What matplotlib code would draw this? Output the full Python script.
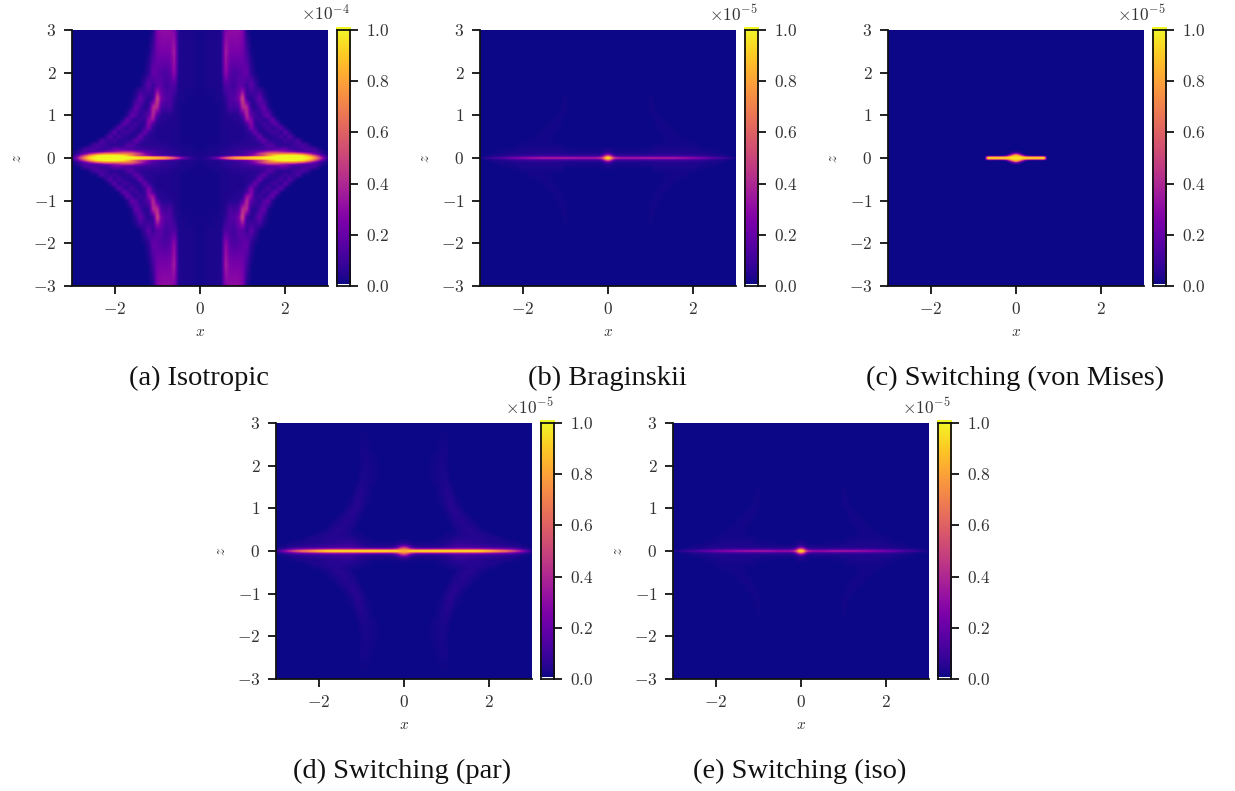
import numpy as np
import matplotlib
matplotlib.use("Agg")
import matplotlib.pyplot as plt

plt.rcParams['mathtext.fontset'] = 'cm'
plt.rcParams['font.family'] = ['Liberation Serif', 'DejaVu Serif']

W, H = 1235, 791

# Quadrant values (x >= 0, z >= 0), in percent of the colour range; rows go from z = 3 down to z = 0.
x_iso = [0, .2, .4, .5, .6, .7, .8, .9, 1.0, 1.1, 1.2, 1.3, 1.4, 1.5, 1.6, 1.7, 1.8, 1.9, 2.0, 2.1, 2.2, 2.3, 2.4, 2.5, 2.6, 2.7, 2.8, 2.9, 3.0]
z_iso = [3, 2.5, 2, 1.7, 1.4, 1.2, 1.0, .9, .8, .7, .6, .5, .4, .3, .2, .15, .1, .06, .03, 0]
iso = [
    [1, 2, 2, 4, 26, 30, 30, 30, 26, 3, 0, 0, 0, 0, 0, 0, 0, 0, 0, 0, 0, 0, 0, 0, 0, 0, 0, 0, 0],
    [1, 2, 2, 4, 36, 24, 24, 24, 22, 10, 1, 0, 0, 0, 0, 0, 0, 0, 0, 0, 0, 0, 0, 0, 0, 0, 0, 0, 0],
    [1, 2, 2, 3, 30, 16, 12, 14, 16, 20, 6, 1, 0, 0, 0, 0, 0, 0, 0, 0, 0, 0, 0, 0, 0, 0, 0, 0, 0],
    [1, 2, 2, 3, 14, 12, 10, 16, 16, 8, 18, 8, 1, 0, 0, 0, 0, 0, 0, 0, 0, 0, 0, 0, 0, 0, 0, 0, 0],
    [1, 1, 2, 2, 6, 14, 14, 22, 50, 8, 4, 10, 20, 6, 1, 0, 0, 0, 0, 0, 0, 0, 0, 0, 0, 0, 0, 0, 0],
    [1, 1, 1, 2, 4, 12, 10, 12, 42, 40, 6, 4, 12, 20, 3, 0, 0, 0, 0, 0, 0, 0, 0, 0, 0, 0, 0, 0, 0],
    [1, 1, 1, 2, 3, 4, 4, 5, 14, 42, 16, 10, 5, 14, 20, 4, 0, 0, 0, 0, 0, 0, 0, 0, 0, 0, 0, 0, 0],
    [1, 1, 1, 2, 3, 3, 4, 4, 6, 34, 28, 6, 10, 5, 10, 20, 3, 0, 0, 0, 0, 0, 0, 0, 0, 0, 0, 0, 0],
    [1, 1, 1, 2, 3, 3, 3, 4, 4, 12, 30, 6, 5, 10, 6, 14, 18, 2, 0, 0, 0, 0, 0, 0, 0, 0, 0, 0, 0],
    [1, 1, 1, 2, 2, 3, 3, 3, 3, 6, 25, 10, 4, 6, 12, 5, 8, 18, 4, 0, 0, 0, 0, 0, 0, 0, 0, 0, 0],
    [1, 1, 1, 2, 2, 3, 3, 3, 3, 4, 8, 22, 6, 4, 5, 10, 10, 4, 18, 5, 0, 0, 0, 0, 0, 0, 0, 0, 0],
    [1, 1, 1, 2, 2, 3, 3, 3, 3, 4, 5, 8, 22, 6, 4, 5, 6, 13, 5, 16, 6, 0, 0, 0, 0, 0, 0, 0, 0],
    [1, 1, 1, 2, 2, 3, 3, 3, 4, 4, 5, 5, 10, 20, 8, 5, 5, 5, 10, 8, 8, 14, 3, 0, 0, 0, 0, 0, 0],
    [1, 1, 2, 2, 3, 3, 4, 4, 5, 5, 5, 5, 6, 8, 16, 14, 6, 5, 5, 5, 9, 11, 12, 10, 2, 0, 0, 0, 0],
    [1, 2, 2, 3, 4, 5, 6, 6, 7, 8, 8, 9, 10, 11, 12, 14, 16, 20, 20, 12, 8, 8, 11, 12, 13, 10, 3, 0, 0],
    [1, 2, 3, 4, 5, 5, 6, 8, 10, 12, 14, 18, 25, 30, 38, 40, 40, 34, 30, 28, 24, 18, 14, 12, 12, 12, 8, 3, 0],
    [2, 2, 3, 4, 5, 6, 7, 8, 10, 13, 20, 30, 45, 55, 65, 68, 70, 72, 72, 72, 72, 66, 60, 48, 35, 20, 10, 4, 1],
    [2, 3, 3, 5, 7, 8, 10, 12, 14, 18, 24, 34, 42, 55, 70, 85, 95, 98, 100, 100, 100, 98, 95, 85, 70, 50, 30, 12, 2],
    [2, 5, 12, 22, 35, 48, 58, 65, 70, 75, 80, 83, 85, 90, 95, 98, 100, 100, 100, 100, 100, 100, 100, 95, 85, 65, 42, 18, 4],
    [2, 6, 28, 48, 65, 75, 85, 88, 92, 94, 95, 98, 100, 100, 100, 100, 100, 100, 100, 100, 100, 100, 100, 98, 95, 78, 55, 25, 8],
]

x_str = [0, .05, .1, .15, .2, .3, .5, .7, .9, 1.0, 1.1, 1.2, 1.4, 1.6, 1.8, 2.0, 2.2, 2.4, 2.6, 2.8, 3.0]
z_str = [3, 2.5, 2, 1.7, 1.4, 1.1, .9, .7, .5, .4, .3, .2, .15, .1, .07, .04, .02, 0]
par = [
    [0, 0, 0, 0, 0, 0, 0, 0, 0, 0, 0, 0, 0, 0, 0, 0, 0, 0, 0, 0, 0],
    [0, 0, 0, 0, 0, 0, 0, 0, 1, 1, 0, 0, 0, 0, 0, 0, 0, 0, 0, 0, 0],
    [0, 0, 0, 0, 0, 0, 0, 1, 2, 1, 0, 0, 0, 0, 0, 0, 0, 0, 0, 0, 0],
    [0, 0, 0, 0, 0, 0, 0, 1, 2, 2, 0, 0, 0, 0, 0, 0, 0, 0, 0, 0, 0],
    [0, 0, 0, 0, 0, 0, 0, 0, 2, 4, 2, 0, 0, 0, 0, 0, 0, 0, 0, 0, 0],
    [0, 0, 0, 0, 0, 0, 0, 0, 1, 3, 5, 2, 0, 0, 0, 0, 0, 0, 0, 0, 0],
    [0, 0, 0, 0, 0, 0, 0, 0, 0, 1, 3, 5, 1, 0, 0, 0, 0, 0, 0, 0, 0],
    [0, 0, 0, 0, 0, 0, 0, 0, 0, 0, 1, 3, 4, 1, 0, 0, 0, 0, 0, 0, 0],
    [0, 0, 0, 0, 0, 0, 0, 0, 0, 0, 0, 1, 4, 4, 1, 0, 0, 0, 0, 0, 0],
    [0, 0, 0, 0, 0, 0, 0, 0, 0, 1, 1, 1, 3, 4, 3, 1, 0, 0, 0, 0, 0],
    [0, 0, 0, 0, 0, 0, 0, 0, 1, 1, 2, 3, 4, 4, 4, 3, 2, 0, 0, 0, 0],
    [3, 3, 2, 1, 1, 1, 1, 1, 2, 3, 4, 6, 6, 5, 4, 3, 3, 2, 1, 0, 0],
    [10, 9, 7, 4, 3, 2, 2, 2, 3, 4, 6, 8, 8, 7, 6, 5, 4, 3, 2, 1, 0],
    [36, 32, 24, 14, 9, 5, 4, 4, 5, 6, 8, 10, 11, 10, 9, 8, 7, 6, 4, 1, 0],
    [55, 52, 42, 28, 20, 14, 12, 12, 13, 14, 15, 17, 18, 17, 16, 15, 14, 12, 10, 4, 0],
    [72, 70, 64, 58, 52, 48, 48, 50, 50, 50, 50, 50, 50, 50, 48, 44, 38, 32, 24, 12, 1],
    [80, 82, 84, 86, 88, 88, 88, 88, 88, 88, 88, 88, 88, 88, 85, 78, 68, 58, 42, 22, 2],
    [82, 84, 88, 92, 95, 96, 97, 97, 97, 97, 97, 97, 97, 97, 95, 88, 76, 68, 52, 30, 3],
]
brag = [
    [0, 0, 0, 0, 0, 0, 0, 0, 0, 0, 0, 0, 0, 0, 0, 0, 0, 0, 0, 0, 0],
    [0, 0, 0, 0, 0, 0, 0, 0, 0, 0, 0, 0, 0, 0, 0, 0, 0, 0, 0, 0, 0],
    [0, 0, 0, 0, 0, 0, 0, 0, 0, 0, 0, 0, 0, 0, 0, 0, 0, 0, 0, 0, 0],
    [0, 0, 0, 0, 0, 0, 0, 0, 0, 0, 0, 0, 0, 0, 0, 0, 0, 0, 0, 0, 0],
    [0, 0, 0, 0, 0, 0, 0, 0, 0, 1, 0, 0, 0, 0, 0, 0, 0, 0, 0, 0, 0],
    [0, 0, 0, 0, 0, 0, 0, 0, 0, 1, 1, 0, 0, 0, 0, 0, 0, 0, 0, 0, 0],
    [0, 0, 0, 0, 0, 0, 0, 0, 0, 0, 1, 1, 0, 0, 0, 0, 0, 0, 0, 0, 0],
    [0, 0, 0, 0, 0, 0, 0, 0, 0, 0, 0, 1, 1, 0, 0, 0, 0, 0, 0, 0, 0],
    [0, 0, 0, 0, 0, 0, 0, 0, 0, 0, 0, 0, 1, 1, 0, 0, 0, 0, 0, 0, 0],
    [0, 0, 0, 0, 0, 0, 0, 0, 0, 0, 0, 0, 1, 1, 1, 0, 0, 0, 0, 0, 0],
    [0, 0, 0, 0, 0, 0, 0, 0, 0, 0, 1, 1, 1, 1, 1, 1, 0, 0, 0, 0, 0],
    [2, 2, 1, 1, 1, 1, 1, 1, 1, 1, 2, 2, 2, 2, 2, 2, 1, 1, 0, 0, 0],
    [4, 3, 2, 1, 1, 1, 1, 1, 2, 2, 2, 3, 3, 3, 3, 2, 2, 1, 1, 0, 0],
    [16, 13, 6, 3, 2, 2, 2, 2, 2, 3, 3, 4, 4, 4, 4, 3, 3, 2, 1, 0, 0],
    [42, 34, 18, 9, 6, 5, 5, 5, 5, 5, 5, 6, 6, 6, 5, 5, 4, 3, 2, 1, 0],
    [70, 62, 38, 22, 15, 11, 11, 11, 11, 12, 12, 12, 12, 12, 11, 10, 8, 5, 3, 1, 0],
    [90, 84, 56, 40, 33, 30, 30, 30, 31, 31, 31, 31, 31, 30, 28, 25, 20, 14, 10, 5, 0],
    [98, 92, 65, 50, 42, 38, 36, 36, 38, 38, 38, 38, 38, 37, 34, 30, 25, 18, 13, 8, 1],
]
swi = [
    [0, 0, 0, 0, 0, 0, 0, 0, 0, 0, 0, 0, 0, 0, 0, 0, 0, 0, 0, 0, 0],
    [0, 0, 0, 0, 0, 0, 0, 0, 0, 0, 0, 0, 0, 0, 0, 0, 0, 0, 0, 0, 0],
    [0, 0, 0, 0, 0, 0, 0, 0, 0, 0, 0, 0, 0, 0, 0, 0, 0, 0, 0, 0, 0],
    [0, 0, 0, 0, 0, 0, 0, 0, 0, 0, 0, 0, 0, 0, 0, 0, 0, 0, 0, 0, 0],
    [0, 0, 0, 0, 0, 0, 0, 0, 0, 1, 0, 0, 0, 0, 0, 0, 0, 0, 0, 0, 0],
    [0, 0, 0, 0, 0, 0, 0, 0, 0, 1, 1, 0, 0, 0, 0, 0, 0, 0, 0, 0, 0],
    [0, 0, 0, 0, 0, 0, 0, 0, 0, 0, 1, 1, 0, 0, 0, 0, 0, 0, 0, 0, 0],
    [0, 0, 0, 0, 0, 0, 0, 0, 0, 0, 0, 1, 1, 0, 0, 0, 0, 0, 0, 0, 0],
    [0, 0, 0, 0, 0, 0, 0, 0, 0, 0, 0, 0, 1, 1, 0, 0, 0, 0, 0, 0, 0],
    [0, 0, 0, 0, 0, 0, 0, 0, 0, 0, 0, 0, 1, 1, 1, 0, 0, 0, 0, 0, 0],
    [0, 0, 0, 0, 0, 0, 0, 0, 0, 0, 1, 1, 1, 1, 1, 1, 0, 0, 0, 0, 0],
    [2, 2, 1, 1, 0, 0, 0, 1, 1, 1, 1, 2, 2, 2, 2, 1, 1, 0, 0, 0, 0],
    [4, 3, 2, 1, 1, 1, 1, 1, 1, 2, 2, 2, 2, 2, 2, 2, 1, 1, 0, 0, 0],
    [16, 13, 6, 3, 2, 2, 2, 2, 2, 2, 3, 3, 3, 3, 3, 3, 2, 1, 1, 0, 0],
    [40, 34, 18, 8, 5, 4, 4, 4, 4, 5, 5, 5, 5, 5, 4, 4, 3, 2, 1, 0, 0],
    [68, 60, 36, 20, 13, 10, 9, 10, 10, 10, 10, 10, 10, 10, 9, 8, 6, 4, 2, 1, 0],
    [88, 82, 54, 36, 29, 26, 26, 28, 29, 29, 29, 28, 27, 25, 22, 19, 15, 11, 8, 4, 0],
    [98, 92, 62, 44, 37, 34, 33, 35, 36, 36, 36, 36, 35, 32, 28, 24, 19, 14, 10, 6, 1],
]
x_vm = [0, .05, .1, .15, .2, .25, .3, .4, .5, .6, .65, .68, .72, 3.0]
z_vm = [3, .16, .12, .1, .08, .06, .04, .03, .02, 0]
vm = [
    [0, 0, 0, 0, 0, 0, 0, 0, 0, 0, 0, 0, 0, 0],
    [0, 0, 0, 0, 0, 0, 0, 0, 0, 0, 0, 0, 0, 0],
    [16, 10, 4, 0, 0, 0, 0, 0, 0, 0, 0, 0, 0, 0],
    [40, 32, 16, 5, 0, 0, 0, 0, 0, 0, 0, 0, 0, 0],
    [70, 60, 38, 18, 5, 0, 0, 0, 0, 0, 0, 0, 0, 0],
    [88, 80, 65, 42, 20, 6, 3, 0, 0, 0, 0, 0, 0, 0],
    [90, 88, 84, 74, 55, 40, 35, 30, 30, 30, 30, 20, 0, 0],
    [92, 92, 90, 85, 78, 76, 76, 76, 76, 76, 76, 60, 0, 0],
    [95, 95, 94, 92, 90, 90, 90, 90, 90, 90, 90, 76, 0, 0],
    [96, 96, 96, 94, 92, 92, 92, 92, 92, 92, 92, 85, 0, 0],
]

xz_ticks = [-2, 0, 2]
z_ticks = [-3, -2, -1, 0, 1, 2, 3]
cb_ticks = [0.0, 0.2, 0.4, 0.6, 0.8, 1.0]
captions = ["(a) Isotropic", "(b) Braginskii", "(c) Switching (von Mises)",
            "(d) Switching (par)", "(e) Switching (iso)"]
exponents = [-4, -5, -5, -5, -5]
panels = [(x_iso, z_iso, iso), (x_str, z_str, brag), (x_vm, z_vm, vm),
          (x_str, z_str, par), (x_str, z_str, swi)]
# axes left / top pixel, caption centre pixel
left = [72, 480, 888, 276, 673]
top = [30, 30, 30, 423, 423]
cap_x = [199, 607, 1015, 402, 800]
cap_y = [378, 378, 378, 771, 771]
SIDE = 256
INK = '#111111'
TXT = '#333333'


def unfold(xq, zq, vals, n=256):
    """Mirror a quadrant into a regular pixel grid."""
    xq, zq, v = np.array(xq), np.array(zq)[::-1], np.array(vals, float)[::-1] / 100
    c = (np.arange(n) + .5) / n * 6 - 3
    cols = np.array([np.interp(np.abs(c), zq, v[:, j]) for j in range(v.shape[1])]).T
    img = np.array([np.interp(np.abs(c), xq, r) for r in cols])
    kz = np.array([.08, .84, .08])
    kx = np.array([.2, .6, .2])
    img = np.apply_along_axis(lambda s: np.convolve(s, kz, 'same'), 0, img)
    img = np.apply_along_axis(lambda s: np.convolve(s, kx, 'same'), 1, img)
    return img


def tex(v):
    return '$%s$' % str(v)


fig = plt.figure(figsize=(W / 100, H / 100), dpi=100)


def pix_axes(x0, y0, w, h):
    return fig.add_axes([x0 / W, 1 - (y0 + h) / H, w / W, h / H])


for i, (xq, zq, vals) in enumerate(panels):
    ax = pix_axes(left[i], top[i], SIDE, SIDE)
    ax.imshow(unfold(xq, zq, vals), origin='lower', extent=[-3, 3, -3, 3], cmap='plasma',
              vmin=0, vmax=1, aspect='auto', interpolation='bilinear')
    for s in ('top', 'right'):
        ax.spines[s].set_visible(False)
    for s in ('left', 'bottom'):
        ax.spines[s].set_linewidth(1.3)
        ax.spines[s].set_color(INK)
    ax.set_xticks(xz_ticks, [tex(t) for t in xz_ticks])
    ax.set_yticks(z_ticks, [tex(t) for t in z_ticks])
    ax.tick_params(length=5.8, width=1.3, color=INK, labelsize=12.5, labelcolor=TXT, pad=5.5)
    ax.set_xlabel('$x$', fontsize=11, color=TXT, labelpad=6)
    ax.set_ylabel('$z$', fontsize=11, color=TXT, labelpad=6)

    cax = pix_axes(left[i] + 265, top[i], 13, SIDE)
    grad = np.linspace(0, 1, 256)[:, None]
    cax.imshow(grad, origin='lower', extent=[-0.04, 1.08, 0.008, 1.011], cmap='plasma',
               vmin=0, vmax=1, aspect='auto', clip_on=False, zorder=1)
    cax.set_xlim(0, 1)
    cax.set_ylim(0, 1)
    cax.set_xticks([])
    cax.yaxis.tick_right()
    cax.set_yticks(cb_ticks, [tex('%.1f' % t) for t in cb_ticks])
    cax.tick_params(length=5.8, width=1.3, color=INK, labelsize=12.5, labelcolor=TXT, pad=5.5)
    for s in cax.spines.values():
        s.set_linewidth(1.3)
        s.set_color(INK)
        s.set_zorder(3)
    cax.text(1.0, 1.02, r'$\times 10^{%d}$' % exponents[i], transform=cax.transAxes,
             ha='right', va='bottom', fontsize=12.5, color=TXT)

    fig.text(cap_x[i] / W, 1 - cap_y[i] / H, captions[i], ha='center', va='center',
             fontsize=20.5, color='#111111')

fig.savefig('out.png', dpi=100)
